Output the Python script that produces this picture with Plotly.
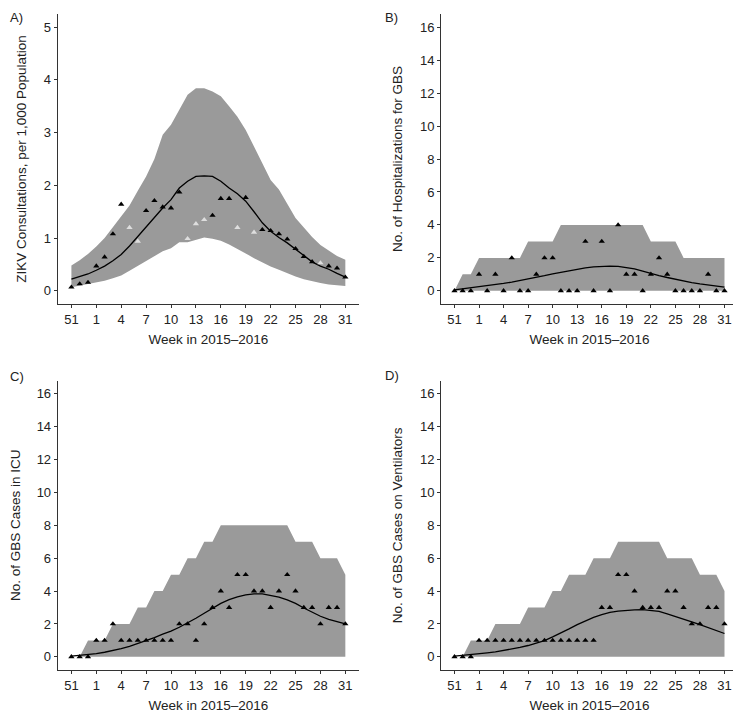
import plotly.graph_objects as go

# weeks 51-53 of 2015, then 1-31 of 2016
weeks = [str(w) for w in [51, 52, 53] + list(range(1, 32))]
tick_weeks = ['51', '1', '4', '7', '10', '13', '16', '19', '22', '25', '28', '31']

# A) ZIKV consultations per 1,000
a_obs = [0.07, 0.13, 0.16, 0.47, 0.64, 1.08, 1.64, 1.20, 0.94, 1.52, 1.71, 1.59,
         1.57, 1.87, 0.99, 1.27, 1.35, 1.43, 1.75, 1.75, 1.20, 1.77, 1.11, 1.16,
         1.14, 1.08, 0.98, 0.80, 0.65, 0.55, 0.53, 0.47, 0.43, 0.26]
a_light_weeks = ['5', '6', '12', '13', '14', '18', '20', '28']
a_fit = [0.22, 0.27, 0.32, 0.39, 0.47, 0.57, 0.69, 0.85, 1.03, 1.23, 1.41, 1.57,
         1.73, 1.95, 2.08, 2.17, 2.18, 2.17, 2.08, 1.95, 1.84, 1.70, 1.50, 1.29,
         1.13, 1.01, 0.91, 0.79, 0.66, 0.55, 0.47, 0.41, 0.33, 0.26]
a_hi = [0.48, 0.58, 0.70, 0.84, 1.00, 1.20, 1.41, 1.62, 1.90, 2.17, 2.50, 2.96,
        3.15, 3.45, 3.72, 3.84, 3.84, 3.78, 3.69, 3.50, 3.30, 3.05, 2.75, 2.42,
        2.10, 1.92, 1.65, 1.38, 1.20, 1.02, 0.87, 0.76, 0.66, 0.59]
a_lo = [0.07, 0.10, 0.12, 0.15, 0.19, 0.24, 0.29, 0.38, 0.47, 0.56, 0.66, 0.75,
        0.81, 0.92, 0.92, 0.97, 1.01, 0.99, 0.95, 0.88, 0.80, 0.71, 0.62, 0.54,
        0.46, 0.40, 0.33, 0.27, 0.22, 0.18, 0.15, 0.12, 0.10, 0.09]

# B) hospitalizations for GBS
b_obs = [0, 0, 0, 1, 0, 1, 0, 2, 0, 0, 1, 2, 2, 0, 0, 0, 3, 0, 3, 0, 4, 1, 1, 0,
         1, 2, 1, 0, 0, 0, 0, 1, 0, 0]
b_fit = [0.06, 0.12, 0.18, 0.24, 0.30, 0.37, 0.45, 0.53, 0.62, 0.72, 0.82, 0.92,
         1.03, 1.13, 1.24, 1.32, 1.40, 1.46, 1.50, 1.50, 1.48, 1.42, 1.33, 1.20,
         1.05, 0.93, 0.81, 0.70, 0.60, 0.50, 0.42, 0.34, 0.28, 0.22]
b_hi = [0, 1, 1, 2, 2, 2, 2, 2, 2, 3, 3, 3, 3, 4, 4, 4, 4, 4, 4, 4, 4, 4, 4, 4,
        3, 3, 3, 3, 2, 2, 2, 2, 2, 2]

# C) GBS cases in ICU
c_obs = [0, 0, 0, 1, 1, 2, 1, 1, 1, 1, 1, 1, 1, 2, 2, 1, 2, 3, 4, 3, 5, 5, 4, 4,
         3, 4, 5, 4, 3, 3, 2, 3, 3, 2]
c_fit = [0.04, 0.08, 0.13, 0.20, 0.28, 0.38, 0.50, 0.63, 0.80, 0.98, 1.17, 1.38,
         1.56, 1.80, 2.06, 2.35, 2.65, 2.97, 3.25, 3.48, 3.65, 3.77, 3.83, 3.83,
         3.75, 3.63, 3.46, 3.25, 2.97, 2.72, 2.47, 2.28, 2.12, 2.00]
c_hi = [0, 0, 1, 1, 1, 2, 2, 2, 3, 3, 4, 4, 5, 5, 6, 6, 7, 7, 8, 8, 8, 8, 8, 8,
        8, 8, 8, 7, 7, 7, 6, 6, 6, 5]

# D) GBS cases on ventilators
d_obs = [0, 0, 0, 1, 1, 1, 1, 1, 1, 1, 1, 1, 1, 1, 1, 1, 1, 1, 3, 3, 5, 5, 4, 3,
         3, 3, 4, 4, 3, 2, 2, 3, 3, 2]
d_fit = [0.04, 0.08, 0.13, 0.18, 0.24, 0.30, 0.38, 0.47, 0.57, 0.69, 0.83, 0.99,
         1.21, 1.43, 1.70, 1.96, 2.20, 2.40, 2.57, 2.70, 2.78, 2.83, 2.86, 2.87,
         2.83, 2.76, 2.62, 2.47, 2.30, 2.13, 1.96, 1.78, 1.60, 1.42]
d_hi = [0, 0, 1, 1, 1, 2, 2, 2, 2, 3, 3, 3, 4, 4, 5, 5, 5, 6, 6, 6, 7, 7, 7, 7,
        7, 7, 6, 6, 6, 6, 5, 5, 5, 4]
zeros = [0] * len(weeks)

panels = [
    dict(lo=a_lo, hi=a_hi, fit=a_fit, obs=a_obs, light=a_light_weeks,
         title='ZIKV Consultations, per 1,000 Population',
         yr=[-0.25, 5.25], yt=list(range(0, 6)), label='A)'),
    dict(lo=zeros, hi=b_hi, fit=b_fit, obs=b_obs, light=[],
         title='No. of Hospitalizations for GBS',
         yr=[-0.8, 16.8], yt=list(range(0, 17, 2)), label='B)'),
    dict(lo=zeros, hi=c_hi, fit=c_fit, obs=c_obs, light=[],
         title='No. of GBS Cases in ICU',
         yr=[-0.8, 16.8], yt=list(range(0, 17, 2)), label='C)'),
    dict(lo=zeros, hi=d_hi, fit=d_fit, obs=d_obs, light=[],
         title='No. of GBS Cases on Ventilators',
         yr=[-0.8, 16.8], yt=list(range(0, 17, 2)), label='D)'),
]

# page body has an 8px margin, so the figure is 8px smaller each way
W, H = 733, 705
xdom = [[0.0678, 0.4789], [0.5907, 0.9959], [0.0678, 0.4789], [0.5907, 0.9959]]
ydom = [[0.5801, 0.9915], [0.5801, 0.9915], [0.0610, 0.4714], [0.0610, 0.4714]]
label_pos = [(0.0, 1.0, 'top'), (0.5116, 1.0, 'top'),
             (0.0, 0.478, 'middle'), (0.5116, 0.479, 'middle')]

FONT = 'Liberation Sans, Arial, sans-serif'
BAND = '#9a9a9a'
TXT = '#222'

fig = go.Figure()
for i, p in enumerate(panels):
    n = '' if i == 0 else str(i + 1)
    xa, ya = 'x' + n, 'y' + n
    fig.add_trace(go.Scatter(x=weeks, y=p['lo'], mode='lines', line=dict(width=0),
                             xaxis=xa, yaxis=ya, hoverinfo='skip'))
    fig.add_trace(go.Scatter(x=weeks, y=p['hi'], mode='lines', line=dict(width=0),
                             fill='tonexty', fillcolor=BAND, xaxis=xa, yaxis=ya))
    fig.add_trace(go.Scatter(x=weeks, y=p['fit'], mode='lines',
                             line=dict(color='black', width=1.3), xaxis=xa, yaxis=ya))
    cols = ['#dedede' if w in p['light'] else 'black' for w in weeks]
    fig.add_trace(go.Scatter(x=weeks, y=p['obs'], mode='markers',
                             marker=dict(symbol='triangle-up', size=5.5, color=cols),
                             xaxis=xa, yaxis=ya))

    fig.layout['xaxis' + n] = dict(
        domain=xdom[i], anchor=ya, type='category', categoryorder='array',
        categoryarray=weeks, range=[-1.65, 34.65], tickmode='array',
        tickvals=tick_weeks, ticks='outside', ticklen=3, tickcolor='#333',
        showline=True, linecolor='#333', linewidth=1, showgrid=False, zeroline=False,
        tickfont=dict(size=13, color=TXT),
        title=dict(text='Week in 2015–2016', font=dict(size=13.5, color=TXT), standoff=8))
    fig.layout['yaxis' + n] = dict(
        domain=ydom[i], anchor=xa, range=p['yr'], tickmode='array', tickvals=p['yt'],
        ticks='outside', ticklen=3, tickcolor='#333', showline=True, linecolor='#333',
        linewidth=1, showgrid=False, zeroline=False,
        tickfont=dict(size=13, color=TXT),
        title=dict(text=p['title'], font=dict(size=13.5, color=TXT), standoff=14))
    lx, ly, anc = label_pos[i]
    fig.add_annotation(text=p['label'], x=lx, y=ly, xref='paper', yref='paper',
                       xanchor='left', yanchor=anc, showarrow=False,
                       font=dict(size=13, color=TXT))

fig.update_layout(width=W, height=H, margin=dict(l=0, r=0, t=0, b=0),
                  paper_bgcolor='white', plot_bgcolor='white', showlegend=False,
                  font=dict(family=FONT))
fig.write_html('out.html')
